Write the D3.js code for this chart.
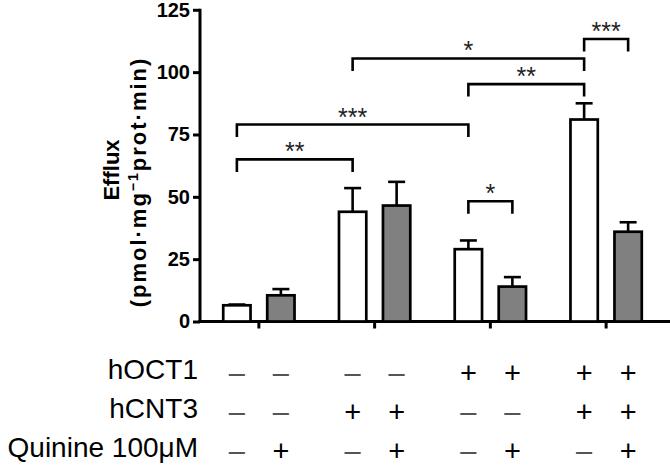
<!DOCTYPE html>
<html>
<head>
<meta charset="utf-8">
<script src="https://cdn.jsdelivr.net/npm/d3@7"></script>
<style>
  html, body { margin: 0; padding: 0; background: #fff; }
  svg { display: block; font-family: "Liberation Sans", Arial, Helvetica, sans-serif; }
</style>
</head>
<body>
<svg id="chart" width="670" height="468"></svg>
<script>
// ---- data ----
const groups = ["G1", "G2", "G3", "G4"];
const conditions = ["vehicle", "quinine"];
const means = [6.5, 10.5, 44, 46.5, 29, 14, 81, 36];
const errors = [0.3, 2.5, 9.5, 9.5, 3.5, 3.8, 6.5, 3.8];
const yTicks = [0, 25, 50, 75, 100, 125];
const rowLabels = ["hOCT1", "hCNT3", "Quinine 100\u03BCM"];
const rowOCT1 = ["-", "-", "-", "-", "+", "+", "+", "+"];
const rowCNT3 = ["-", "-", "+", "+", "-", "-", "+", "+"];
const rowQuin = ["-", "+", "-", "+", "-", "+", "-", "+"];
const brackets = [
  { from: 0, to: 2, level: 65, label: "**" },
  { from: 0, to: 4, level: 79, label: "***" },
  { from: 2, to: 6, level: 105.5, label: "*" },
  { from: 4, to: 6, level: 95.2, label: "**" },
  { from: 4, to: 5, level: 48.2, label: "*" },
  { from: 6, to: 7, level: 113.3, label: "***" }
];

// ---- layout ----
const svg = d3.select("#chart");
const x0 = d3.scaleBand().domain(groups).range([201, 664]).padding(0);
const x1 = d3.scaleBand().domain(conditions).range([-37, 37]).paddingInner(0.318).paddingOuter(0);
const y = d3.scaleLinear().domain([0, 125]).range([321.5, 9.8]);
const fills = { vehicle: "#ffffff", quinine: "#808080" };

const bars = means.map((m, i) => ({
  i, mean: m, err: errors[i],
  group: groups[Math.floor(i / 2)],
  cond: conditions[i % 2]
}));
const cx = d => x0(d.group) + x0.bandwidth() / 2 + x1(d.cond) + x1.bandwidth() / 2;

// y axis
const yAxis = d3.axisLeft(y).tickValues(yTicks).tickSize(7).tickSizeOuter(0).tickPadding(3);
const gy = svg.append("g").attr("transform", "translate(200,0)").call(yAxis);
gy.select(".domain").attr("stroke", "#000").attr("stroke-width", 3).attr("d", "M0," + (y(125) - 1) + "V" + (y(0) + 1.5));
gy.selectAll(".tick line").attr("stroke", "#000").attr("stroke-width", 3);
gy.selectAll(".tick text").attr("font-size", 20).attr("font-weight", "bold").attr("fill", "#000")
  .attr("font-family", "'Liberation Sans', Arial, sans-serif");

// x axis
const xAxis = d3.axisBottom(x0).tickSize(7).tickSizeOuter(0).tickFormat("");
const gx = svg.append("g").attr("transform", "translate(0," + y(0) + ")").call(xAxis);
gx.select(".domain").attr("stroke", "#000").attr("stroke-width", 3).attr("d", "M198.5,0H670");
gx.selectAll(".tick line").attr("stroke", "#000").attr("stroke-width", 3);

// error bars
const eb = svg.append("g").attr("stroke", "#000").attr("stroke-width", 2.6).attr("fill", "none");
bars.forEach(d => {
  const c = cx(d);
  eb.append("line").attr("x1", c).attr("x2", c).attr("y1", y(d.mean)).attr("y2", y(d.mean + d.err));
  eb.append("line").attr("x1", c - 8.5).attr("x2", c + 8.5).attr("y1", y(d.mean + d.err)).attr("y2", y(d.mean + d.err));
});

// bars
svg.append("g").selectAll("rect").data(bars).join("rect")
  .attr("x", d => cx(d) - x1.bandwidth() / 2 + 1.35)
  .attr("width", x1.bandwidth() - 2.7)
  .attr("y", d => y(d.mean))
  .attr("height", d => y(0) - y(d.mean))
  .attr("fill", d => fills[d.cond])
  .attr("stroke", "#000")
  .attr("stroke-width", 2.7);

// significance brackets
const bg = svg.append("g");
brackets.forEach(b => {
  const xa = cx(bars[b.from]), xb = cx(bars[b.to]);
  const yl = y(b.level), leg = 12.5;
  bg.append("path")
    .attr("d", `M${xa},${yl + leg}V${yl}H${xb}V${yl + leg}`)
    .attr("fill", "none").attr("stroke", "#000").attr("stroke-width", 2.6);
  bg.append("text").attr("x", (xa + xb) / 2).attr("y", yl + 1)
    .attr("text-anchor", "middle").attr("font-size", 25).attr("fill", "#222")
    .text(b.label);
});

// y title
const yt = svg.append("g");
yt.append("text").attr("transform", "translate(119,170) rotate(-90)")
  .attr("text-anchor", "middle").attr("font-size", 22).attr("font-weight", "bold").text("Efflux");
const t2 = yt.append("text").attr("transform", "translate(146,182) rotate(-90)")
  .attr("text-anchor", "middle").attr("font-size", 22).attr("font-weight", "bold")
  .attr("letter-spacing", 2);
t2.append("tspan").text("(pmol\u00B7mg");
t2.append("tspan").attr("font-size", 14).attr("dy", -8).text("\u22121");
t2.append("tspan").attr("dy", 8).text("prot\u00B7min)");

// table of conditions
const rows = [rowOCT1, rowCNT3, rowQuin];
const rowY = [379, 418, 457];
const tg = svg.append("g");
rowLabels.forEach((lab, r) => {
  tg.append("text").attr("x", 198).attr("y", rowY[r]).attr("text-anchor", "end")
    .attr("font-size", 28).attr("fill", "#000").text(lab);
  rows[r].forEach((s, i) => {
    tg.append("text").attr("x", cx(bars[i])).attr("y", rowY[r] + 4)
      .attr("text-anchor", "middle").attr("font-size", 29)
      .attr("fill", s === "+" ? "#000" : "#555")
      .text(s === "+" ? "+" : "\u2013");
  });
});
</script>
</body>
</html>
